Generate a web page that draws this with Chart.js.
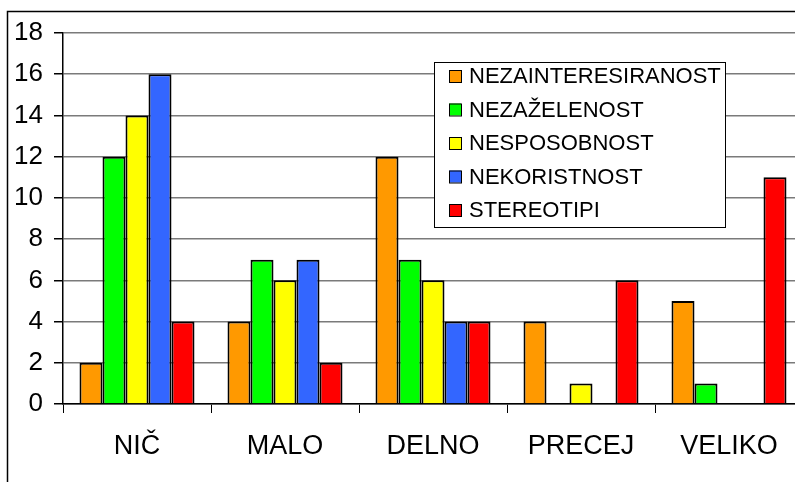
<!DOCTYPE html>
<html>
<head>
<meta charset="utf-8">
<script src="https://cdn.jsdelivr.net/npm/chart.js@4/dist/chart.umd.min.js"></script>
<style>
  html, body { margin: 0; padding: 0; background: #fff; overflow: hidden; }
  #wrap { position: relative; width: 815px; height: 482px; }
</style>
</head>
<body>
<div id="wrap"><canvas id="c" width="815" height="482"></canvas></div>
<script>
const categories = ['NIČ', 'MALO', 'DELNO', 'PRECEJ', 'VELIKO'];
const seriesNames = ['NEZAINTERESIRANOST', 'NEZAŽELENOST', 'NESPOSOBNOST', 'NEKORISTNOST', 'STEREOTIPI'];
const nezainteresiranost = [2, 4, 12, 4, 5];
const nezazelenost = [12, 7, 7, 0, 1];
const nesposobnost = [14, 6, 6, 1, 0];
const nekoristnost = [16, 7, 4, 0, 0];
const stereotipi = [4, 2, 4, 6, 11];
const seriesColors = ['#FF9900', '#00FF00', '#FFFF00', '#3366FF', '#FF0000'];
const yTicks = [0, 2, 4, 6, 8, 10, 12, 14, 16, 18];

const FONT = "'Liberation Sans', Arial, sans-serif";

const seriesValues = [nezainteresiranost, nezazelenost, nesposobnost, nekoristnost, stereotipi];

// Outer frame around the whole chart
const framePlugin = {
  id: 'frame',
  beforeDraw(chart) {
    const ctx = chart.ctx;
    ctx.save();
    ctx.strokeStyle = '#000';
    ctx.lineWidth = 1.5;
    ctx.strokeRect(7.5, 11.5, 1000, 1000);
    ctx.restore();
  }
};

// Boxed legend drawn inside the plot area
const boxLegendPlugin = {
  id: 'boxLegend',
  afterDraw(chart) {
    const ctx = chart.ctx;
    const x0 = 434, y0 = 62, w = 291, h = 165;
    ctx.save();
    ctx.fillStyle = '#fff';
    ctx.fillRect(x0, y0, w, h);
    ctx.strokeStyle = '#000';
    ctx.lineWidth = 1;
    ctx.strokeRect(x0 + 0.5, y0 + 0.5, w, h);
    ctx.font = '22px ' + FONT;
    ctx.textBaseline = 'middle';
    ctx.textAlign = 'left';
    chart.data.datasets.forEach((ds, i) => {
      const cy = 76 + i * 33.5;
      ctx.fillStyle = ds.backgroundColor;
      ctx.fillRect(449, cy - 6, 12, 12);
      ctx.strokeStyle = '#000';
      ctx.lineWidth = 1;
      ctx.strokeRect(449.5, cy - 5.5, 12, 12);
      ctx.fillStyle = '#000';
      ctx.fillText(ds.label, 469, cy + 1);
    });
    ctx.restore();
  }
};

new Chart(document.getElementById('c'), {
  type: 'bar',
  data: {
    labels: categories,
    datasets: seriesNames.map((name, i) => ({
      label: name,
      data: seriesValues[i],
      backgroundColor: seriesColors[i],
      borderColor: '#000',
      borderWidth: 2,
      categoryPercentage: 0.777,
      barPercentage: 1
    }))
  },
  options: {
    responsive: false,
    animation: false,
    layout: { padding: { top: 33, right: 12, left: 0, bottom: 0 } },
    plugins: {
      legend: { display: false },
      tooltip: { enabled: false }
    },
    scales: {
      x: {
        afterFit(scale) { scale.height = 78; },
        grid: {
          offset: true,
          drawOnChartArea: false,
          drawTicks: true,
          tickLength: 9,
          color: '#000',
          lineWidth: 1
        },
        border: { color: '#000', width: 1.5 },
        ticks: {
          color: '#000',
          font: { family: FONT, size: 27 },
          padding: 17,
          maxRotation: 0
        }
      },
      y: {
        min: 0,
        max: 18,
        afterFit(scale) { scale.width = 63; },
        afterBuildTicks(scale) { scale.ticks = yTicks.map(v => ({ value: v })); },
        grid: {
          color: '#7a7a7a',
          lineWidth: 1.5,
          tickLength: 9,
          tickColor: '#000'
        },
        border: { color: '#000', width: 1.5 },
        ticks: {
          color: '#000',
          font: { family: FONT, size: 26 },
          padding: 11
        }
      }
    }
  },
  plugins: [framePlugin, boxLegendPlugin]
});
</script>
</body>
</html>
